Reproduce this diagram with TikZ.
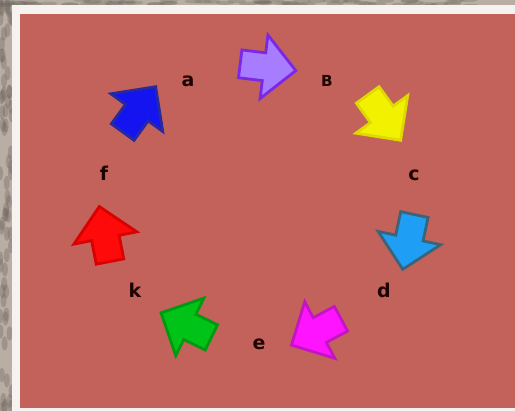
\documentclass[tikz,border=0pt]{standalone}
\usepackage{fontspec}
\setmainfont{DejaVu Sans}
\usetikzlibrary{positioning}
\definecolor{stonegray}{HTML}{B8AEA4}
\definecolor{stonedark}{HTML}{6E665F}
\definecolor{frameWhite}{HTML}{F6F2EF}
\definecolor{wallred}{HTML}{C3625A}
\definecolor{lblink}{HTML}{1E0303}
\definecolor{blueFill}{HTML}{1414F0}
\definecolor{blueEdge}{HTML}{2828A0}
\definecolor{purpleFill}{HTML}{A87CFF}
\definecolor{purpleEdge}{HTML}{7A28E6}
\definecolor{yellowFill}{HTML}{F2F200}
\definecolor{yellowEdge}{HTML}{DEDA00}
\definecolor{cyanFill}{HTML}{1E9EF5}
\definecolor{cyanEdge}{HTML}{3C6478}
\definecolor{magentaFill}{HTML}{FF14FF}
\definecolor{magentaEdge}{HTML}{C414C4}
\definecolor{greenFill}{HTML}{00C318}
\definecolor{greenEdge}{HTML}{009A10}
\definecolor{redFill}{HTML}{FF0A0A}
\definecolor{redEdge}{HTML}{D80000}

\begin{document}
\begin{tikzpicture}[
    x=0.5pt, y=-0.5pt,
    blockarrow/.style={line width=1.4pt, line join=miter},
    lbl/.style={font=\fontsize{9.5}{11}\selectfont\bfseries, text=lblink,
                inner sep=0pt, anchor=base},
]
\useasboundingbox (0,0) rectangle (515,411);

% -- stone surround, white frame, red board --------------------------------
\fill[stonegray] (0,0) rectangle (515,411);
\pgfmathsetseed{11}
\foreach \i in {1,...,70} {
    \fill[stonedark, opacity=0.35] ({rnd*12},{rnd*411}) ellipse (3 and 7);
    \fill[stonedark, opacity=0.30] ({rnd*515},{rnd*6}) ellipse (9 and 2);
}
\fill[frameWhite] (12,5) rectangle (515,411);
\fill[wallred]    (20,14) rectangle (515,408);

% -- ring of block arrows (centre x / centre y / angle / fill / edge) ----
\foreach \px/\py/\ang/\fc/\dc in {
    266/67/-7/purpleFill/purpleEdge,
    383/116/-54/yellowFill/yellowEdge,
    409/240/-102/cyanFill/cyanEdge,
    318/331/-152/magentaFill/magentaEdge,
    188/326/154/greenFill/greenEdge,
    105/236/101/redFill/redEdge,
    138/111/54/blueFill/blueEdge} {
    \draw[blockarrow, fill=\fc, draw=\dc, shift={(\px,\py)}, rotate=\ang]
        (-26,-14) -- (-2,-14) -- (-2,-32) -- (30,0) -- (-2,32) -- (-2,14)
        -- (-26,14) -- cycle;
}

% -- letters ---------------------------------------------------------------
\node[lbl] (lblA) at (188,87)  {a};
\node[lbl] (lblB) at (327,87)  {\fontsize{7.6}{8}\selectfont B};
\node[lbl] (lblC) at (414,181) {c};
\node[lbl] (lblD) at (384,298) {d};
\node[lbl] (lblE) at (259,350) {e};
\node[lbl] (lblK) at (135,298) {k};
\node[lbl] (lblF) at (104,181) {f};

\end{tikzpicture}
\end{document}
